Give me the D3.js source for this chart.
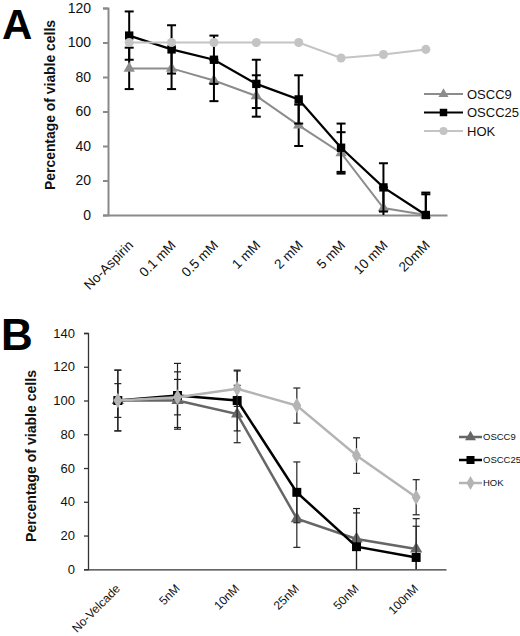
<!DOCTYPE html>
<html><head><meta charset="utf-8">
<script src="https://cdn.jsdelivr.net/npm/d3@7/dist/d3.min.js"></script>
<style>body{margin:0;background:#fff}svg{display:block;font-family:"Liberation Sans",Arial,sans-serif}</style>
</head><body><svg id="c" width="520" height="636"></svg>
<script>
// ---- Panel A data ----
const catsA = ["No-Aspirin","0.1 mM","0.5 mM","1 mM","2 mM","5 mM","10 mM","20mM"];
const oscc9A = [85, 85, 78, 69, 52, 36, 4, 0];
const oscc9ErrA = [12, 12, 12, 12, 12, 12, 12, 12];
const oscc25A = [104, 96, 90, 76, 67, 39, 16, 0];
const oscc25ErrA = [14, 14, 14, 14, 14, 14, 14, 13];
const hokA = [100, 100, 100, 100, 100, 91, 93, 96];
const yTicksA = [0, 20, 40, 60, 80, 100, 120];
// ---- Panel B data ----
const catsB = ["No-Velcade","5nM","10nM","25nM","50nM","100nM"];
const oscc9B = [100, 100, 92, 30, 18, 12];
const oscc9ErrB = [18, 17, 17, 17, 18, 18];
const oscc25B = [100, 103, 100, 45.6, 13.4, 7];
const oscc25ErrB = [18, 19, 18, 18, 20, 18.5];
const hokB = [100, 102, 107, 97, 67.4, 42.7];
const hokErrB = [10, 10.5, 10.5, 10.4, 10.5, 10.4];
const yTicksB = [0, 20, 40, 60, 80, 100, 120, 140];
const seriesNames = ["OSCC9","OSCC25","HOK"];

const svg = d3.select("#c");

function panel(cfg){
  const g = svg.append("g");
  const x = d3.scalePoint().domain(cfg.cats).range([cfg.x0, cfg.x1]).padding(0.5);
  const y = d3.scaleLinear().domain([0, cfg.ymax]).range([cfg.y0, cfg.y1]);
  // axes
  const ya = d3.axisLeft(y).tickValues(cfg.yticks).tickSize(cfg.tick).tickPadding(cfg.tickPad).tickFormat(d3.format("d"));
  const gy = g.append("g").attr("transform",`translate(${cfg.x0},0)`).call(ya);
  gy.select(".domain").attr("stroke",cfg.axisColor).attr("stroke-width",cfg.axisW);
  gy.selectAll(".tick line").attr("stroke",cfg.axisColor).attr("stroke-width",cfg.axisW);
  gy.selectAll("text").attr("font-size",cfg.tickFont).attr("fill","#111").style("font-family","Liberation Sans, Arial");
  const xa = d3.axisBottom(x).tickSize(0).tickFormat("");
  const gx = g.append("g").attr("transform",`translate(0,${cfg.y0})`).call(xa);
  gx.select(".domain").attr("stroke",cfg.axisColor).attr("stroke-width",cfg.axisW);
  // x labels
  g.append("g").selectAll("text").data(cfg.cats).join("text")
    .attr("transform",d=>`translate(${x(d)+cfg.lblDx},${cfg.y0+cfg.lblDy}) rotate(-45)`)
    .attr("text-anchor","end").attr("font-size",cfg.xFont).attr("fill","#111").text(d=>d);
  // y title
  g.append("text").attr("transform",`translate(${cfg.titleX},${cfg.titleY}) rotate(-90)`)
    .attr("text-anchor","middle").attr("font-weight","bold").attr("font-size",cfg.titleFont)
    .attr("textLength",cfg.titleLen).attr("lengthAdjust","spacingAndGlyphs")
    .attr("fill","#111").text("Percentage of viable cells");
  // panel letter
  g.append("text").attr("x",cfg.letterX).attr("y",cfg.letterY).attr("font-weight","bold")
    .attr("font-size",cfg.letterFont).attr("fill","#000").text(cfg.letter);
  // series
  cfg.series.forEach(s=>{
    const sg = g.append("g");
    if(s.err){
      s.vals.forEach((v,i)=>{
        const cx = x(cfg.cats[i]);
        const lo = Math.max(0, v - s.err[i]), hi = v + s.err[i];
        sg.append("line").attr("x1",cx).attr("x2",cx).attr("y1",y(lo)).attr("y2",y(hi))
          .attr("stroke",cfg.errColor).attr("stroke-width",cfg.errW);
        sg.append("line").attr("x1",cx-cfg.cap).attr("x2",cx+cfg.cap).attr("y1",y(hi)).attr("y2",y(hi))
          .attr("stroke",cfg.errColor).attr("stroke-width",cfg.errW);
        if(v - s.err[i] > 0)
          sg.append("line").attr("x1",cx-cfg.cap).attr("x2",cx+cfg.cap).attr("y1",y(lo)).attr("y2",y(lo))
            .attr("stroke",cfg.errColor).attr("stroke-width",cfg.errW);
      });
    }
    const line = d3.line().x((d,i)=>x(cfg.cats[i])).y(d=>y(d));
    sg.append("path").datum(s.vals).attr("d",line).attr("fill","none")
      .attr("stroke",s.color).attr("stroke-width",s.w);
    sg.selectAll("path.m").data(s.vals).join("path").attr("class","m")
      .attr("transform",(d,i)=>`translate(${x(cfg.cats[i])},${y(d)})`)
      .attr("d",d3.symbol().type(s.sym).size(s.size)()).attr("fill",s.mcolor);
  });
  // legend
  const lg = g.append("g");
  cfg.series.forEach((s,i)=>{
    const ly = cfg.legY + i*cfg.legGap;
    lg.append("line").attr("x1",cfg.legX).attr("x2",cfg.legX+cfg.legLen).attr("y1",ly).attr("y2",ly)
      .attr("stroke",s.color).attr("stroke-width",s.w);
    lg.append("path").attr("transform",`translate(${cfg.legX+cfg.legLen/2},${ly})`)
      .attr("d",d3.symbol().type(s.sym).size(s.size*cfg.legSym)()).attr("fill",s.mcolor);
    lg.append("text").attr("x",cfg.legX+cfg.legLen+cfg.legTxtGap).attr("y",ly).attr("dy","0.36em")
      .attr("font-size",cfg.legFont).attr("fill","#111").text(seriesNames[i]);
  });
}

panel({
  cats:catsA, ymax:120, yticks:yTicksA, x0:108, x1:447, y0:215, y1:8,
  tick:5, tickPad:12, tickFont:14, axisColor:"#8a8a8a", axisW:2,
  lblDx:5, lblDy:31, xFont:13.5,
  titleX:55, titleY:105, titleFont:14, titleLen:170,
  letter:"A", letterX:2, letterY:39, letterFont:42,
  errColor:"#000", errW:2, cap:4.5, legSym:0.8,
  series:[
    {vals:oscc9A, err:oscc9ErrA, color:"#8c8c8c", mcolor:"#8c8c8c", w:2, sym:d3.symbolTriangle, size:55},
    {vals:oscc25A, err:oscc25ErrA, color:"#000", mcolor:"#000", w:2.2, sym:d3.symbolSquare, size:70},
    {vals:hokA, err:null, color:"#c4c4c4", mcolor:"#c4c4c4", w:2, sym:d3.symbolCircle, size:65}
  ],
  legX:424, legLen:39, legTxtGap:4, legY:94, legGap:18.5, legFont:13
});

panel({
  cats:catsB, ymax:140, yticks:yTicksB, x0:88, x1:446, y0:569.3, y1:333,
  tick:4, tickPad:9, tickFont:13, axisColor:"#333", axisW:1.3,
  lblDx:3, lblDy:20, xFont:12,
  titleX:36, titleY:456, titleFont:14, titleLen:172,
  letter:"B", letterX:1, letterY:350, letterFont:44,
  errColor:"#222", errW:1.2, cap:3.5, legSym:0.8,
  series:[
    {vals:oscc9B, err:oscc9ErrB, color:"#666", mcolor:"#666", w:2.5, sym:d3.symbolTriangle, size:65},
    {vals:oscc25B, err:oscc25ErrB, color:"#000", mcolor:"#000", w:2.5, sym:d3.symbolSquare, size:80},
    {vals:hokB, err:hokErrB, color:"#b4b4b4", mcolor:"#b4b4b4", w:2.5, sym:d3.symbolDiamond, size:70}
  ],
  legX:459, legLen:23, legTxtGap:1, legY:437, legGap:23, legFont:9.5
});
</script></body></html>
